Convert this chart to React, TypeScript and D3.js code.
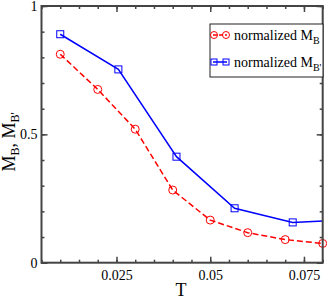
import React, { useEffect, useRef } from "react";
import * as d3 from "d3";

// values
const tRed = [0.01, 0.02, 0.03, 0.04, 0.05, 0.06, 0.07, 0.08];
const mB = [0.812, 0.675, 0.52, 0.283, 0.166, 0.117, 0.09, 0.075];
const tBlue = [0.01, 0.0255, 0.041, 0.0565, 0.072, 0.0875];
const mBp = [0.89, 0.753, 0.413, 0.212, 0.157, 0.167];
const xMajor = [0.025, 0.05, 0.075];
const yMajor = [0, 0.5, 1];

const W = 327;
const H = 300;
const margin = { top: 6, right: 4.3, bottom: 37.3, left: 41.5 };

const App = () => {
  const bottomRef = useRef<SVGGElement>(null);
  const topRef = useRef<SVGGElement>(null);
  const leftRef = useRef<SVGGElement>(null);
  const rightRef = useRef<SVGGElement>(null);

  const iw = W - margin.left - margin.right;
  const ih = H - margin.top - margin.bottom;
  const x = d3.scaleLinear().domain([0.005, 0.08]).range([0, iw]);
  const y = d3.scaleLinear().domain([0, 1]).range([ih, 0]);

  const xMinor = d3.range(0.005, 0.0801, 0.005);
  const yMinor = d3.range(0, 1.001, 0.1);

  useEffect(() => {
    const style = (g: any) => {
      g.select(".domain").remove();
      g.selectAll("line").attr("stroke", "#444").attr("stroke-width", 1.5);
      g.selectAll("text")
        .attr("font-family", "Liberation Serif")
        .attr("font-size", 14)
        .attr("fill", "#000");
    };
    const fmt = (d: any) => String(d);
    const b = d3.select(bottomRef.current);
    b.selectAll("*").remove();
    b.append("g").call(d3.axisBottom(x).tickValues(xMinor).tickSizeInner(-3).tickSizeOuter(0).tickFormat(() => "")).call(style);
    b.append("g").call(d3.axisBottom(x).tickValues(xMajor).tickSizeInner(-6).tickSizeOuter(0).tickPadding(7).tickFormat(fmt)).call(style);

    const t = d3.select(topRef.current);
    t.selectAll("*").remove();
    t.append("g").call(d3.axisTop(x).tickValues(xMinor).tickSizeInner(-3).tickSizeOuter(0).tickFormat(() => "")).call(style);
    t.append("g").call(d3.axisTop(x).tickValues(xMajor).tickSizeInner(-6).tickSizeOuter(0).tickFormat(() => "")).call(style);

    const l = d3.select(leftRef.current);
    l.selectAll("*").remove();
    l.append("g").call(d3.axisLeft(y).tickValues(yMinor).tickSizeInner(-3).tickSizeOuter(0).tickFormat(() => "")).call(style);
    l.append("g").call(d3.axisLeft(y).tickValues(yMajor).tickSizeInner(-6).tickSizeOuter(0).tickPadding(4).tickFormat(fmt)).call(style);

    const r = d3.select(rightRef.current);
    r.selectAll("*").remove();
    r.append("g").call(d3.axisRight(y).tickValues(yMinor).tickSizeInner(-3).tickSizeOuter(0).tickFormat(() => "")).call(style);
    r.append("g").call(d3.axisRight(y).tickValues(yMajor).tickSizeInner(-6).tickSizeOuter(0).tickFormat(() => "")).call(style);
  }, []);

  const line = d3.line<[number, number]>().x((d) => x(d[0])).y((d) => y(d[1]));
  const redPts: [number, number][] = tRed.map((t, i) => [t, mB[i]]);
  const bluePts: [number, number][] = tBlue.map((t, i) => [t, mBp[i]]);

  return (
    <svg width={W} height={H} style={{ position: "absolute", left: 0, top: 0 }} fontFamily="Liberation Serif">
      <defs>
        <clipPath id="plot">
          <rect x={0} y={0} width={iw} height={ih} />
        </clipPath>
      </defs>
      <rect width={W} height={H} fill="#fff" />
      <g transform={`translate(${margin.left},${margin.top})`}>
        <g clipPath="url(#plot)">
          <path d={line(bluePts) || ""} fill="none" stroke="#0000ff" strokeWidth={1.5} />
          <path d={line(redPts) || ""} fill="none" stroke="#ff0000" strokeWidth={1.5} strokeDasharray="6,3" />
        </g>
        {bluePts.filter((d) => d[0] <= 0.08).map((d, i) => (
          <rect key={"b" + i} x={x(d[0]) - 3.5} y={y(d[1]) - 3.5} width={7} height={7} fill="none" stroke="#0000ff" strokeWidth={1} />
        ))}
        {redPts.map((d, i) => (
          <circle key={"r" + i} cx={x(d[0])} cy={y(d[1])} r={4} fill="none" stroke="#ff0000" strokeWidth={1} />
        ))}
        <g ref={bottomRef} transform={`translate(0,${ih})`} />
        <g ref={topRef} />
        <g ref={leftRef} />
        <g ref={rightRef} transform={`translate(${iw},0)`} />
        <rect x={0} y={0} width={iw} height={ih} fill="none" stroke="#444" strokeWidth={2} />
      </g>

      {/* legend */}
      <g>
        <rect x={210} y={24} width={113} height={53} fill="#fff" stroke="#222" strokeWidth={1} />
        <line x1={213} x2={227} y1={35} y2={35} stroke="#ff0000" strokeWidth={1.5} strokeDasharray="4,2" />
        <circle cx={214} cy={35} r={3.5} fill="none" stroke="#ff0000" strokeWidth={1} />
        <circle cx={226} cy={35} r={3.5} fill="none" stroke="#ff0000" strokeWidth={1} />
        <text x={234} y={40} fontSize={14}>
          normalized M<tspan fontSize={10} dy={4}>B</tspan>
        </text>
        <line x1={213} x2={227} y1={62} y2={62} stroke="#0000ff" strokeWidth={1.5} />
        <rect x={211} y={59} width={6} height={6} fill="none" stroke="#0000ff" strokeWidth={1} />
        <rect x={223} y={59} width={6} height={6} fill="none" stroke="#0000ff" strokeWidth={1} />
        <text x={234} y={67} fontSize={14}>
          normalized M<tspan fontSize={10} dy={4}>B'</tspan>
        </text>
      </g>

      {/* axis titles */}
      <text x={181} y={296} fontSize={18} textAnchor="middle">T</text>
      <text transform="translate(15,142) rotate(-90)" fontSize={18} textAnchor="middle">
        M<tspan fontSize={12} dy={4}>B</tspan><tspan dy={-4}>, M</tspan><tspan fontSize={12} dy={4}>B'</tspan>
      </text>
    </svg>
  );
};

export default App;
